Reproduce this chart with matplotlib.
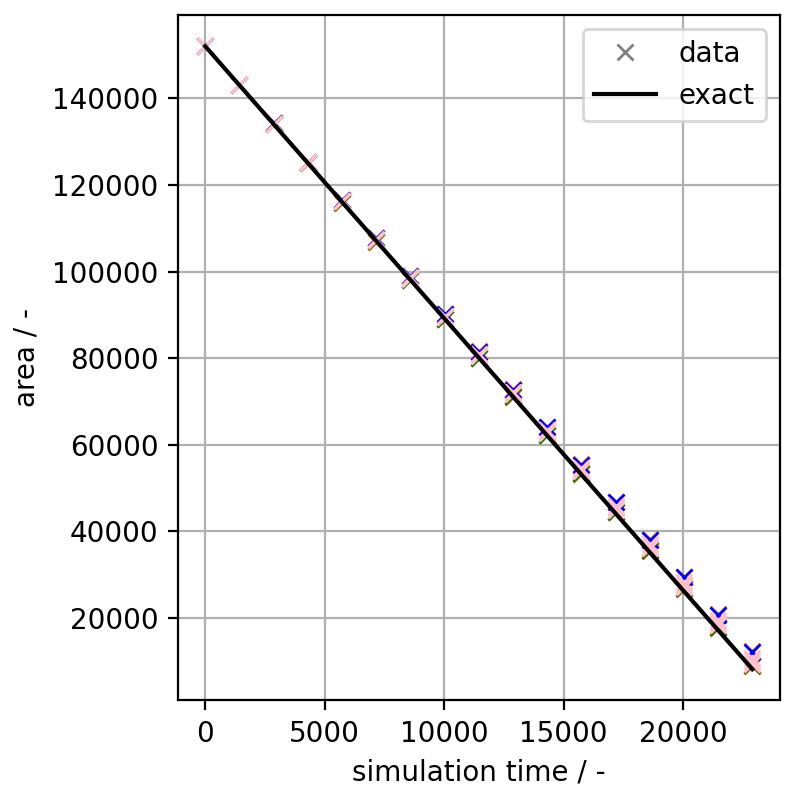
import matplotlib
matplotlib.use("Agg")
import matplotlib.pyplot as plt
from matplotlib.lines import Line2D

times = [0, 1431, 2862, 4293, 5724, 7155, 8586, 10017, 11448, 12879,
         14310, 15741, 17172, 18603, 20034, 21465, 22896]

area_orange_hi = [152053, 143128, 134254, 125416, 116608, 107825, 99062, 90315, 81595,
                  72886, 64194, 55518, 46859, 38208, 29574, 20956, 12347]
area_red = [152053, 143038, 134010, 124980, 115958, 106954, 97969, 89004, 80046,
            71108, 62179, 53269, 44378, 35497, 26634, 17781, 8947]
area_green = [152053, 143042, 134021, 125000, 115989, 106998, 98027, 89076, 80135,
              71214, 62303, 53412, 44541, 35680, 26839, 18008, 9197]
area_blue = [152053, 143124, 134243, 125396, 116577, 107781, 99004, 90243, 81506,
             72780, 64070, 55375, 46696, 38025, 29369, 20729, 12097]
area_pink1 = [152053, 143104, 134185, 125291, 116414, 107553, 98705, 89867, 81045,
              72231, 63427, 54634, 45851, 37073, 28306, 19549, 10797]
area_pink2 = [152053, 143091, 134150, 125226, 116314, 107413, 98521, 89636, 80762,
              71894, 63032, 54178, 45331, 36488, 27651, 18822, 9997]
area_pink3 = [152053, 143083, 134128, 125185, 116252, 107326, 98406, 89492, 80585,
              71683, 62785, 53893, 45006, 36122, 27242, 18368, 9497]

exact_t = [0, 22896]
exact_area = [152053, 8197]

series = [
    (area_orange_hi, "darkorange"),
    (area_red, "orangered"),
    (area_green, "green"),
    (area_blue, "blue"),
    (area_pink3, "pink"),
    (area_pink2, "pink"),
    (area_pink1, "pink"),
]

fig = plt.figure(figsize=(3.97, 3.97), dpi=200)
ax = fig.add_axes([0.224, 0.118, 0.758, 0.863])

for vals, col in series:
    ax.plot(times, vals, linestyle="none", marker="x", color=col)
ax.plot(exact_t, exact_area, color="black", linewidth=1.5)

ax.grid(True)
ax.set_xlabel("simulation time / -")
ax.set_ylabel("area / -")
ax.set_xticks([0, 5000, 10000, 15000, 20000])
ax.set_yticks([20000, 40000, 60000, 80000, 100000, 120000, 140000])

handles = [Line2D([], [], linestyle="none", marker="x", color="gray", label="data"),
           Line2D([], [], color="black", linewidth=1.5, label="exact")]
ax.legend(handles=handles, loc="upper right", handlelength=2.25)

fig.savefig("out.png", dpi=200)
